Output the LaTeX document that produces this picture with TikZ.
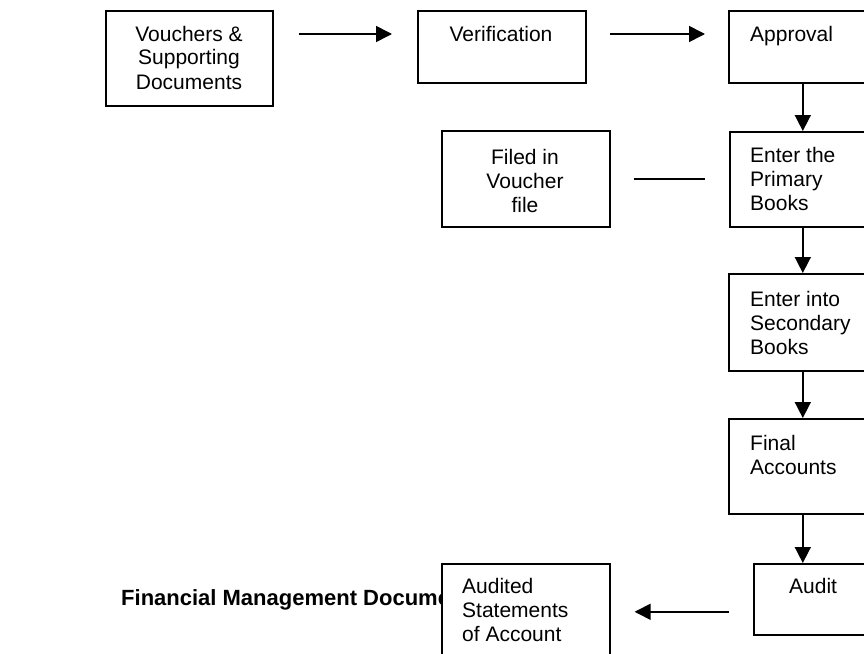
\documentclass[tikz,border=0pt]{standalone}
\usepackage{fontspec}
\setmainfont{Liberation Sans}
\usetikzlibrary{arrows.meta,calc}
\newcommand{\txtlines}[2]{\begin{tabular}[t]{@{}#1@{}}#2\end{tabular}}
\begin{document}
\begin{tikzpicture}[x=1pt,y=-1pt,
  box/.style={draw, line width=1.6pt, fill=white, inner sep=0pt, anchor=north west},
  lbl/.style={inner sep=0pt, font=\fontsize{21}{24}\selectfont},
  ttl/.style={inner sep=0pt, font=\fontsize{22}{24}\selectfont\bfseries},
  arr/.style={line width=1.6pt, -{Triangle[length=16pt,width=16pt]}},
  ln/.style={line width=1.6pt}]
\useasboundingbox (0,0) rectangle (864,653);
\clip (0,0) rectangle (864,653);
\fill[white] (0,0) rectangle (864,653);

% title (partly hidden by the box drawn later)
\node[ttl, anchor=base west] (title) at (121,605) {Financial Management Documents};

% boxes
\node[box, minimum width=167pt, minimum height=95pt] (vouch) at (105,10) {};
\node[box, minimum width=168pt, minimum height=72pt] (verif) at (417,10) {};
\node[box, minimum width=148pt, minimum height=72pt] (appr) at (728,10) {};
\node[box, minimum width=168pt, minimum height=96pt] (filed) at (441,130) {};
\node[box, minimum width=146pt, minimum height=95pt] (prim) at (729,131) {};
\node[box, minimum width=148pt, minimum height=97pt] (sec) at (728,273) {};
\node[box, minimum width=148pt, minimum height=95pt] (final) at (728,418) {};
\node[box, minimum width=130pt, minimum height=71pt] (audit) at (753,563) {};
\node[box, minimum width=168pt, minimum height=110pt] (audited) at (441,563) {};

% texts
\node[lbl, anchor=base] (tvouch) at (189,41) {\txtlines{c}{Vouchers \&\\Supporting\\Documents}};
\node[lbl, anchor=base] (tverif) at (501,41.7) {Verification};
\node[lbl, anchor=base west] (tappr) at (750,41.7) {Approval};
\node[lbl, anchor=base] (tfiled) at (525,164) {\txtlines{c}{Filed in\\Voucher\\file}};
\node[lbl, anchor=base west] (tprim) at (750,162) {\txtlines{l}{Enter the\\Primary\\Books}};
\node[lbl, anchor=base west] (tsec) at (750,306) {\txtlines{l}{Enter into\\Secondary\\Books}};
\node[lbl, anchor=base west] (tfinal) at (750,450) {\txtlines{l}{Final\\Accounts}};
\node[lbl, anchor=base west] (taudit) at (789,593) {Audit};
\node[lbl, anchor=base west] (taudited) at (462,593) {\txtlines{l}{Audited\\Statements\\of Account}};

% connectors
\draw[arr, shorten <=25pt, shorten >=25pt] ([yshift=-24pt]vouch.north east) -- ([yshift=-24pt]verif.north west);
\draw[arr, shorten <=23pt, shorten >=23pt] ([yshift=-24pt]verif.north east) -- ([yshift=-24pt]appr.north west);
\draw[arr] (appr.south) -- (prim.north);
\draw[ln, shorten <=23pt, shorten >=24pt] (filed.east) -- (filed.east -| prim.west);
\draw[arr] (prim.south) -- (prim.south |- sec.north);
\draw[arr] (sec.south) -- (sec.south |- final.north);
\draw[arr] (final.south) -- (final.south |- audit.north);
\draw[arr, shorten <=24pt, shorten >=24pt] ([yshift=-12.5pt]audit.west) -- ([yshift=-12.5pt]audit.west -| audited.east);
\end{tikzpicture}
\end{document}
